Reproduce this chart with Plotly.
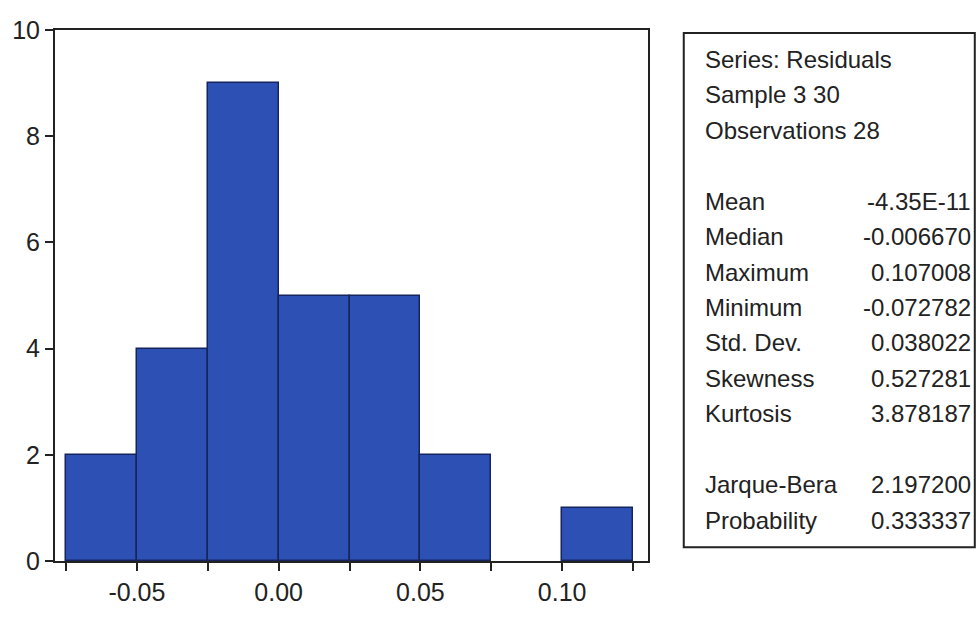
import plotly.graph_objects as go

# ---- data ----
bin_edges = [-0.075, -0.05, -0.025, 0.0, 0.025, 0.05, 0.075, 0.10, 0.125]
counts = [2, 4, 9, 5, 5, 2, 0, 1]
x_tick_vals = [-0.075, -0.05, -0.025, 0.0, 0.025, 0.05, 0.075, 0.10, 0.125]
x_tick_text = ["", "-0.05", "", "0.00", "", "0.05", "", "0.10", ""]
y_tick_vals = [0, 2, 4, 6, 8, 10]
y_tick_text = ["0", "2", "4", "6", "8", "10"]

stat_header = ["Series: Residuals", "Sample 3 30", "Observations 28"]
stat_names = ["Mean", "Median", "Maximum", "Minimum", "Std. Dev.", "Skewness", "Kurtosis"]
stat_values = ["-4.35E-11", "-0.006670", "0.107008", "-0.072782", "0.038022", "0.527281", "3.878187"]
test_names = ["Jarque-Bera", "Probability"]
test_values = ["2.197200", "0.333337"]

# ---- layout geometry (pixels) ----
W, H = 979, 618
L, R, T, B = 51, 331, 30, 43
pw, ph = W - L - R, H - T - B

def px_x(x):
    return (x - L) / pw

def px_y(y):
    return (H - B - y) / ph

centers = [(bin_edges[i] + bin_edges[i + 1]) / 2 for i in range(len(counts))]
widths = [bin_edges[i + 1] - bin_edges[i] for i in range(len(counts))]
edge_w = [1.5 if c > 0 else 0 for c in counts]

FONT = "Liberation Sans, Arial, sans-serif"

fig = go.Figure()
fig.add_trace(go.Bar(
    x=centers, y=counts, width=widths,
    marker=dict(color="#2d50b4", line=dict(color="#16245e", width=edge_w)),
    hoverinfo="x+y",
))

# stats box
fig.add_shape(type="rect", xref="paper", yref="paper",
              x0=px_x(684), x1=px_x(977), y0=px_y(561), y1=px_y(33),
              line=dict(color="#222222", width=2), fillcolor="white", layer="below")

rows = []
for i, t in enumerate(stat_header):
    rows.append((i, t, None))
for j, (n, v) in enumerate(zip(stat_names, stat_values)):
    rows.append((4 + j, n, v))
for j, (n, v) in enumerate(zip(test_names, test_values)):
    rows.append((12 + j, n, v))

y0, dy = 60, 36.4
for k, name, val in rows:
    yy = px_y(y0 + dy * k)
    fig.add_annotation(xref="paper", yref="paper", x=px_x(703), y=yy,
                       text=name, showarrow=False, xanchor="left", yanchor="middle",
                       font=dict(family=FONT, size=24, color="#222222"))
    if val is not None:
        fig.add_annotation(xref="paper", yref="paper", x=px_x(975), y=yy,
                           text=val, showarrow=False, xanchor="right", yanchor="middle",
                           font=dict(family=FONT, size=24, color="#222222"))

fig.update_layout(
    width=W, height=H,
    margin=dict(l=L, r=R, t=T, b=B, pad=0),
    paper_bgcolor="white", plot_bgcolor="white",
    showlegend=False, bargap=0,
    font=dict(family=FONT, size=25, color="#222222"),
    xaxis=dict(range=[-0.0789, 0.1303], tickvals=x_tick_vals, ticktext=x_tick_text,
               ticks="outside", ticklen=8, tickwidth=2, tickcolor="#222222",
               showline=True, linecolor="#222222", linewidth=2, mirror=True,
               showgrid=False, zeroline=False, tickfont=dict(size=25)),
    yaxis=dict(range=[0, 10], tickvals=y_tick_vals, ticktext=y_tick_text,
               ticks="outside", ticklen=8, tickwidth=2, tickcolor="#222222",
               showline=True, linecolor="#222222", linewidth=2, mirror=True,
               showgrid=False, zeroline=False, tickfont=dict(size=25)),
)

fig.write_html(
    "out.html",
    config={"displayModeBar": False},
    post_script="document.body.style.margin='0';document.body.style.overflow='hidden';",
)
